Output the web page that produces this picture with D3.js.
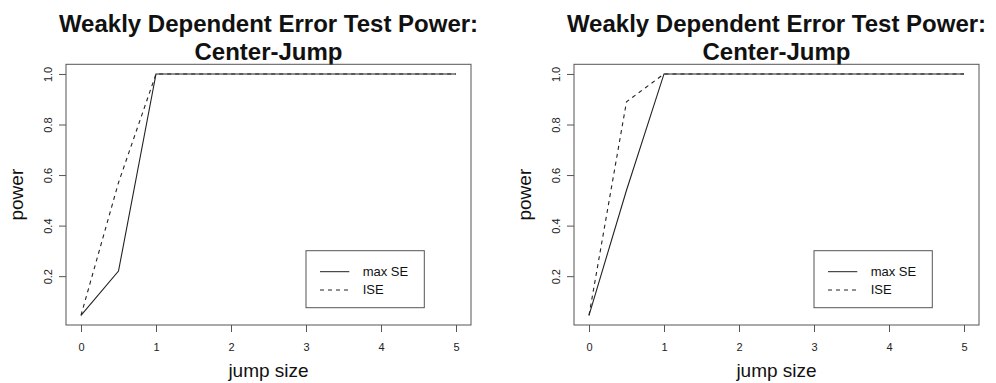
<!DOCTYPE html>
<html>
<head>
<meta charset="utf-8">
<script src="https://cdn.jsdelivr.net/npm/d3@7"></script>
<style>
  html, body { margin: 0; padding: 0; background: #fff; }
  svg { display: block; font-family: "Liberation Sans", Arial, Helvetica, sans-serif; }
</style>
</head>
<body>
<div id="chart"></div>
<script>
// data
const jumpSizes = [0, 0.5, 1, 2, 3, 4, 5];
const leftMaxSE = [0.045, 0.22, 1, 1, 1, 1, 1];
const leftISE = [0.045, 0.57, 1, 1, 1, 1, 1];
const rightMaxSE = [0.045, 0.54, 1, 1, 1, 1, 1];
const rightISE = [0.045, 0.89, 1, 1, 1, 1, 1];
const xTicks = [0, 1, 2, 3, 4, 5];
const yTicks = [0.2, 0.4, 0.6, 0.8, 1.0];
const titleLines = ['Weakly Dependent Error Test Power:', 'Center-Jump'];
const legendLabels = ['max SE', 'ISE'];

const width = 996, height = 383;
const panelOffsets = [0, 508];
const plot = {left: 66, right: 471, top: 64.3, bottom: 325};

const svg = d3.select('#chart').append('svg')
    .attr('width', width)
    .attr('height', height)
    .attr('viewBox', [0, 0, width, height]);

// R style range padding (4% each side)
const xExt = d3.extent(jumpSizes);
const xPad = (xExt[1] - xExt[0]) * 0.04;
const x = d3.scaleLinear()
    .domain([xExt[0] - xPad, xExt[1] + xPad])
    .range([plot.left, plot.right]);

function drawPanel (offset, maxSE, ise) {
    const g = svg.append('g').attr('transform', `translate(${offset},0)`);

    const yExt = d3.extent(maxSE.concat(ise));
    const yPad = (yExt[1] - yExt[0]) * 0.04;
    const y = d3.scaleLinear()
        .domain([yExt[0] - yPad, yExt[1] + yPad])
        .range([plot.bottom, plot.top]);

    // title
    const cx = (plot.left + plot.right) / 2;
    g.append('text')
        .attr('x', cx)
        .attr('y', 31.7)
        .attr('text-anchor', 'middle')
        .attr('font-weight', 'bold')
        .attr('font-size', 24)
        .attr('fill', '#111')
        .text(titleLines[0]);
    g.append('text')
        .attr('x', cx)
        .attr('y', 59.5)
        .attr('text-anchor', 'middle')
        .attr('font-weight', 'bold')
        .attr('font-size', 24)
        .attr('fill', '#111')
        .text(titleLines[1]);

    // axes
    g.append('g')
        .attr('transform', `translate(0,${plot.bottom})`)
        .call(d3.axisBottom(x).tickValues(xTicks).tickSize(7).tickPadding(11)
            .tickFormat(d3.format('d')))
        .call(a => a.select('.domain').remove())
        .call(a => a.selectAll('line').attr('stroke', '#555'))
        .call(a => a.selectAll('text').attr('font-size', 11).attr('fill', '#222')
            .attr('font-family', null));

    g.append('g')
        .attr('transform', `translate(${plot.left},0)`)
        .call(d3.axisLeft(y).tickValues(yTicks).tickSize(7)
            .tickFormat(d3.format('.1f')))
        .call(a => a.select('.domain').remove())
        .call(a => a.selectAll('line').attr('stroke', '#555'))
        .call(a => a.selectAll('text')
            .attr('x', null).attr('dy', null)
            .attr('text-anchor', 'middle')
            .attr('transform', 'translate(-14,0) rotate(-90)')
            .attr('font-size', 11).attr('fill', '#222')
            .attr('font-family', null));

    // box
    g.append('rect')
        .attr('x', plot.left)
        .attr('y', plot.top)
        .attr('width', plot.right - plot.left)
        .attr('height', plot.bottom - plot.top)
        .attr('fill', 'none')
        .attr('stroke', '#555')
        .attr('stroke-width', 1);

    // axis titles
    g.append('text')
        .attr('x', cx)
        .attr('y', 376.7)
        .attr('text-anchor', 'middle')
        .attr('font-size', 19)
        .attr('fill', '#111')
        .text('jump size');
    g.append('text')
        .attr('transform', `translate(23,${(plot.top + plot.bottom) / 2}) rotate(-90)`)
        .attr('text-anchor', 'middle')
        .attr('font-size', 19)
        .attr('fill', '#111')
        .text('power');

    // lines
    const line = d3.line()
        .x((d, i) => x(jumpSizes[i]))
        .y(d => y(d));
    g.append('path')
        .datum(maxSE)
        .attr('d', line)
        .attr('fill', 'none')
        .attr('stroke', '#222')
        .attr('stroke-width', 1.1);
    g.append('path')
        .datum(ise)
        .attr('d', line)
        .attr('fill', 'none')
        .attr('stroke', '#222')
        .attr('stroke-width', 1.1)
        .attr('stroke-dasharray', '4,4');

    // legend
    const lg = g.append('g');
    lg.append('rect')
        .attr('x', 306)
        .attr('y', 250.7)
        .attr('width', 118.3)
        .attr('height', 57)
        .attr('fill', '#fff')
        .attr('stroke', '#555');
    legendLabels.forEach((lab, i) => {
        const ly = 271.7 + i * 18.3;
        lg.append('line')
            .attr('x1', 320).attr('x2', 349.3)
            .attr('y1', ly).attr('y2', ly)
            .attr('stroke', '#222')
            .attr('stroke-dasharray', i === 1 ? '4,4' : null);
        lg.append('text')
            .attr('x', 362.7)
            .attr('y', ly + 4.3)
            .attr('font-size', 13)
            .attr('fill', '#111')
            .text(lab);
    });
}

drawPanel(panelOffsets[0], leftMaxSE, leftISE);
drawPanel(panelOffsets[1], rightMaxSE, rightISE);
</script>
</body>
</html>
